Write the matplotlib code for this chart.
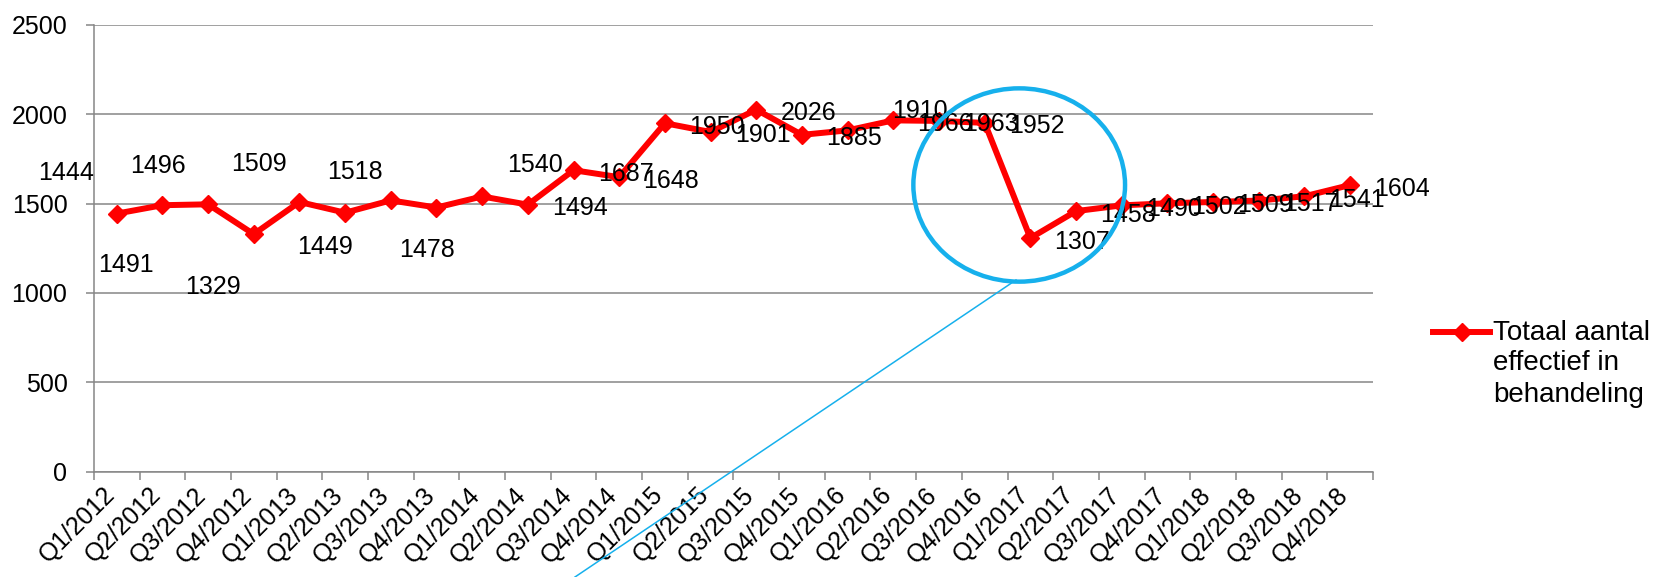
import matplotlib
matplotlib.use("Agg")
import matplotlib.pyplot as plt
import numpy as np
from matplotlib.lines import Line2D
from matplotlib.patches import Ellipse
from matplotlib.transforms import ScaledTranslation

# ---------------- data ----------------
categories = [
    "Q1/2012", "Q2/2012", "Q3/2012", "Q4/2012",
    "Q1/2013", "Q2/2013", "Q3/2013", "Q4/2013",
    "Q1/2014", "Q2/2014", "Q3/2014", "Q4/2014",
    "Q1/2015", "Q2/2015", "Q3/2015", "Q4/2015",
    "Q1/2016", "Q2/2016", "Q3/2016", "Q4/2016",
    "Q1/2017", "Q2/2017", "Q3/2017", "Q4/2017",
    "Q1/2018", "Q2/2018", "Q3/2018", "Q4/2018",
]
values = [1444, 1491, 1496, 1329, 1509, 1449, 1518, 1478,
          1540, 1494, 1687, 1648, 1950, 1901, 2026, 1885,
          1910, 1966, 1963, 1952, 1307, 1458, 1490, 1502,
          1509, 1517, 1541, 1604]
series_name = "Totaal aantal\neffectief in\nbehandeling"
y_ticks = [0, 500, 1000, 1500, 2000, 2500]

# label offsets (pixels, dx to the right, dy downwards) of each label centre
R = (52, 1.5)
label_offsets = [(-51, -42.5), (-36, 58), (-50, -40), (-41, 51),
                 (-40, -39.5), (-20.5, 32), (-36, -30), (-9, 40),
                 (53, -33), R, R, R, R, R, R, R,
                 (72, -21), R, R, R, R, R, R, R, R, R, R, R]

# ---------------- figure ----------------
W, H, DPI = 1657, 577, 100
plt.rcParams['font.family'] = ['Liberation Sans', 'DejaVu Sans']
FS = 18
FS_X = 18
FS_LEG = 20
RED = '#FF0000'
GRID = '#868686'
BLUE = '#16B0EC'

fig = plt.figure(figsize=(W / DPI, H / DPI), dpi=DPI)
fig.patch.set_facecolor('white')
x0, x1, ytop, ybot = 93.85, 1373.0, 25.0, 471.5
ax = fig.add_axes([x0 / W, 1 - ybot / H, (x1 - x0) / W, (ybot - ytop) / H])

x = np.arange(len(categories))
ax.plot(x, values, color=RED, lw=4.3, marker='D', ms=9.5, mfc=RED, mec=RED,
        zorder=3, clip_on=False)

ax.set_xlim(-0.5, len(categories) - 0.5)
ax.set_ylim(0, 2500)
ax.set_yticks(y_ticks)
ax.set_yticklabels([str(t) for t in y_ticks])
ax.yaxis.grid(True, color=GRID, lw=1.1)
ax.set_axisbelow(True)
for s in ['top', 'right']:
    ax.spines[s].set_visible(False)
for s in ['left', 'bottom']:
    ax.spines[s].set_color(GRID)
    ax.spines[s].set_linewidth(1.1)

ax.tick_params(axis='y', length=6, width=1.1, color=GRID, pad=13, labelsize=FS)
ax.set_xticks(np.arange(-0.5, len(categories), 1.0))
ax.set_xticklabels([])
ax.tick_params(axis='x', which='major', length=6, width=1.1, color=GRID)
ax.set_xticks(x, minor=True)
ax.tick_params(axis='x', which='minor', length=0, pad=8)
ax.set_xticklabels(categories, minor=True, rotation=45, ha='right', va='top',
                   rotation_mode='anchor', fontsize=FS_X)
shift = ScaledTranslation(-14 / DPI, 0, fig.dpi_scale_trans)
for lbl in ax.get_xticklabels(minor=True):
    lbl.set_transform(lbl.get_transform() + shift)

half = 9  # half digit height in px
for i, (v, (dx, dy)) in enumerate(zip(values, label_offsets)):
    ax.annotate(str(v), (x[i], v), xytext=(dx * 0.72, -(dy + half) * 0.72),
                textcoords='offset points', ha='center', va='baseline',
                fontsize=FS, color='black', zorder=4, annotation_clip=False)

# legend (drawn manually)
ly = 1 - 331.7 / H
fig.add_artist(Line2D([1433 / W, 1461.5 / W, 1490 / W], [ly, ly, ly], color=RED,
                      lw=4.3, marker='D', ms=9.5, markevery=[1], mfc=RED, mec=RED,
                      transform=fig.transFigure))
fig.text(1493 / W, 1 - 363.5 / H, series_name, ha='left', va='center',
         fontsize=FS_LEG, linespacing=1.25)

# annotation: blue circle and pointer line
fig.add_artist(Ellipse((1019.2 / W, 1 - 185 / H), 211.7 / W, 193.3 / H,
                       transform=fig.transFigure, fill=False, ec=BLUE, lw=3.2,
                       zorder=5))
fig.add_artist(Line2D([1016 / W, 575 / W], [1 - 280 / H, 1 - 577 / H],
                      color=BLUE, lw=1.1, transform=fig.transFigure, zorder=5))

fig.savefig('out.png', dpi=DPI, facecolor='white')
